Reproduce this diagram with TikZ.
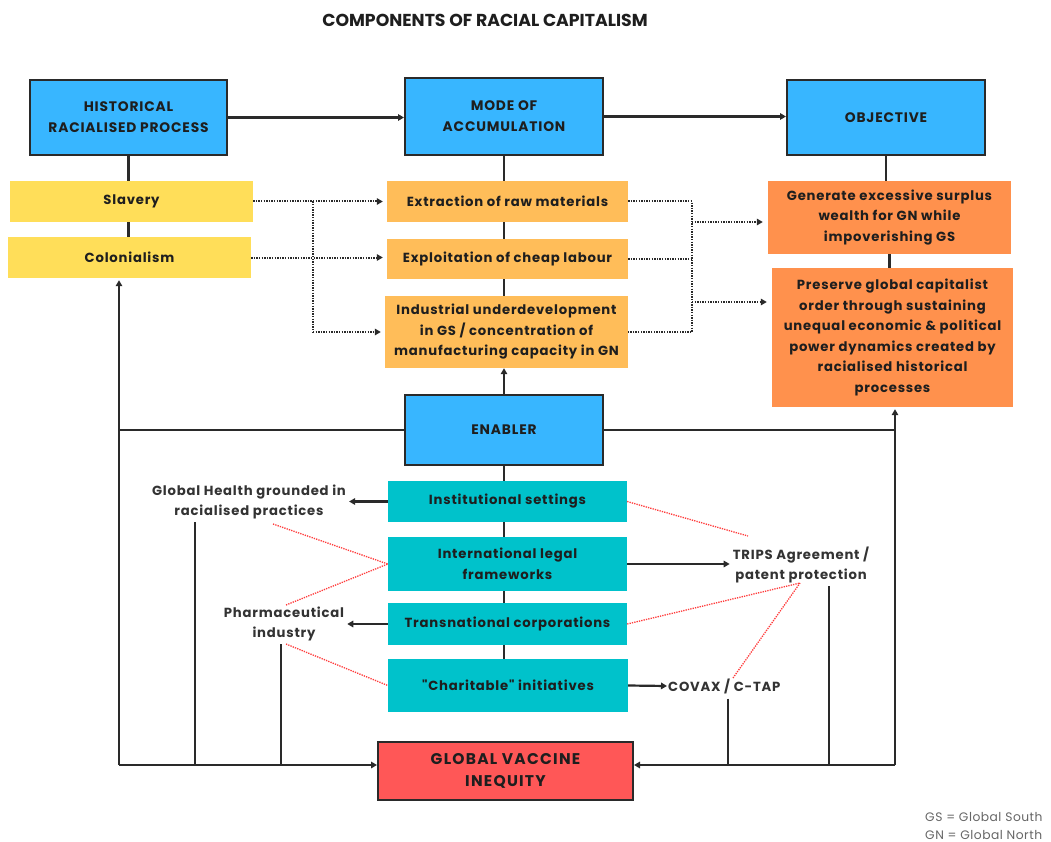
\documentclass[tikz,border=0pt]{standalone}
\usepackage{fontspec}
\usepackage{graphicx}
\setmainfont{Poppins}
\newfontfamily\fsp{Poppins}[LetterSpace=6]
\newfontfamily\fspw{Poppins}[LetterSpace=8]
\newfontfamily\fspl{Poppins}[LetterSpace=4]
\usetikzlibrary{arrows.meta,calc}
\definecolor{cblue}{HTML}{38B6FF}
\definecolor{cyel}{HTML}{FFDE59}
\definecolor{clor}{HTML}{FFBD59}
\definecolor{cor}{HTML}{FF914D}
\definecolor{cteal}{HTML}{00C2CB}
\definecolor{cred}{HTML}{FF5757}
\definecolor{txt}{HTML}{1E1E1E}
\definecolor{lbl}{HTML}{333333}
\definecolor{lin}{HTML}{2A2A2A}
\definecolor{rdot}{HTML}{FF3B3B}
\newcommand{\fsbox}{\fsp\fontsize{13.2}{20.5}\selectfont\bfseries}
\newcommand{\fshead}{\fsp\fontsize{13.8}{21}\selectfont\bfseries}
\begin{document}
\begin{tikzpicture}[x=1pt,y=-1pt,
  box/.style={inner sep=0pt, align=center, text=txt, font=\fsbox},
  bluebox/.style={box, fill=cblue, draw=lin, line width=2pt, font=\fshead},
  yelbox/.style={box, fill=cyel},
  lorbox/.style={box, fill=clor},
  orbox/.style={box, fill=cor},
  tealbox/.style={box, fill=cteal},
  redbox/.style={box, fill=cred, draw=lin, line width=2pt, font=\fspw\fontsize{15.5}{22}\selectfont\bfseries},
  lbltext/.style={inner sep=3pt, align=center, text=lbl, font=\fsbox},
  conn/.style={draw=lin, line width=2.2pt},
  arr/.style={-{Triangle[length=6pt,width=6.5pt]}},
  dots/.style={draw=lin, line width=2pt, dash pattern=on 1.4pt off 1.2pt},
  reddot/.style={draw=rdot, line width=1.3pt, dash pattern=on 1.3pt off 1.1pt}
]
\useasboundingbox (0,0) rectangle (1051,842);
\fill[white] (0,0) rectangle (1051,842);

% title
\node[text=txt, font=\fontsize{17.3}{20}\selectfont\bfseries] (title) at (485,20) {COMPONENTS OF RACIAL CAPITALISM};

% top row
\node[bluebox, minimum width=197, minimum height=75] (hrp) at (128.5,117.5) {HISTORICAL\\RACIALISED PROCESS};
\node[bluebox, minimum width=198, minimum height=77] (moa) at (504,116.5) {MODE OF\\ACCUMULATION};
\node[bluebox, minimum width=198, minimum height=75] (obj) at (886,117.5) {OBJECTIVE};

% historical processes
\node[yelbox, minimum width=243, minimum height=41] (slav) at (131.5,201.5) {Slavery};
\node[yelbox, minimum width=243, minimum height=41] (colon) at (129.5,257.5) {Colonialism};

% modes of accumulation
\node[lorbox, minimum width=241, minimum height=41] (extr) at (507.5,201.5) {Extraction of raw materials};
\node[lorbox, minimum width=241, minimum height=40] (expl) at (507.5,259) {Exploitation of cheap labour};
\node[lorbox, minimum width=243, minimum height=72] (indu) at (506.5,332) {Industrial underdevelopment\\in GS / concentration of\\manufacturing capacity in GN};

% objectives
\node[orbox, minimum width=243, minimum height=73] (gen) at (889.5,217.5) {Generate excessive surplus\\wealth for GN while\\impoverishing GS};
\node[orbox, minimum width=241, minimum height=139] (pres) at (892.5,337.5) {Preserve global capitalist\\order through sustaining\\unequal economic \& political\\power dynamics created by\\racialised historical\\processes};

% enabler
\node[bluebox, minimum width=198, minimum height=70] (enab) at (504,430) {ENABLER};
\node[tealbox, minimum width=239, minimum height=41] (inst) at (507.5,501.5) {Institutional settings};
\node[tealbox, minimum width=239, minimum height=54] (intl) at (507.5,564) {International legal\\frameworks};
\node[tealbox, minimum width=239, minimum height=42] (trans) at (507.5,624) {Transnational corporations};
\node[tealbox, minimum width=240, minimum height=53] (char) at (508,685.5) {\char34 Charitable\char34{} initiatives};

% outcome
\node[redbox, minimum width=255, minimum height=58] (gvi) at (505.5,771) {GLOBAL VACCINE\\INEQUITY};

% side labels
\node[lbltext] (gh) at (249,502) {Global Health grounded in\\racialised practices};
\node[lbltext] (trips) at (801,565) {TRIPS Agreement /\\patent protection};
\node[lbltext] (pharma) at (284,624) {Pharmaceutical\\industry};
\node[lbltext, anchor=west, inner sep=1pt] (covax) at (667,686) {COVAX / C-TAP};

% legend
\node[anchor=west, inner sep=0pt, text=lbl!75, font=\fspl\fontsize{12.3}{14}\selectfont] (gs) at (925,817) {GS = Global South};
\node[anchor=west, inner sep=0pt, text=lbl!75, font=\fspl\fontsize{12.3}{14}\selectfont] (gn) at (925,835) {GN = Global North};

% coordinates
\coordinate (BL) at (119,765);
\coordinate (BR) at (895,765);
\coordinate (JL) at (313,0);
\coordinate (JR) at (692,0);
\coordinate (JRa) at (692,222);
\coordinate (JRb) at (692,302);
\coordinate (d1) at (195,765);
\coordinate (d2) at (281,765);
\coordinate (d3) at (728,765);
\coordinate (d4) at (829,765);
\coordinate (r1) at (748,536);
\coordinate (r2) at (273,524);
\coordinate (r3) at (286,605);
\coordinate (r4) at (286,644);
\coordinate (r5) at (800,583);
\coordinate (r6) at (733,678);

% top arrows
\draw[conn,arr] (hrp.east) -- (moa.west |- hrp.east);
\draw[conn,arr] (moa.east) -- (obj.west |- moa.east);

% vertical stacks
\draw[conn] (hrp.south) -- (hrp.south |- slav.north);
\draw[conn] (hrp.south |- slav.south) -- (hrp.south |- colon.north);
\draw[conn] (moa.south) -- (moa.south |- extr.north);
\draw[conn] (moa.south |- extr.south) -- (moa.south |- expl.north);
\draw[conn] (moa.south |- expl.south) -- (moa.south |- indu.north);
\draw[conn] (obj.south) -- (obj.south |- gen.north);
\draw[conn] (gen.south) -- (gen.south |- pres.north);
\draw[conn,arr] (enab.north) -- (enab.north |- indu.south);
\draw[conn] (enab.south) -- (enab.south |- inst.north);
\draw[conn] (enab.south |- inst.south) -- (enab.south |- intl.north);
\draw[conn] (enab.south |- intl.south) -- (enab.south |- trans.north);
\draw[conn] (enab.south |- trans.south) -- (enab.south |- char.north);

% dotted: history -> accumulation
\draw[dots,arr] (slav.east) -- ([xshift=-4pt]extr.west |- slav.east);
\draw[dots,arr] (colon.east) -- ([xshift=-4pt]expl.west |- colon.east);
\draw[dots] (JL |- slav.east) -- (JL |- indu.west);
\draw[dots,arr] (JL |- indu.west) -- ([xshift=-4pt]indu.west);

% dotted: accumulation -> objective
\draw[dots] (extr.east) -- (JR |- extr.east) -- (JR |- indu.east) -- (indu.east);
\draw[dots] (expl.east) -- (JR |- expl.east);
\draw[dots,arr] (JRa) -- ([xshift=-5pt]gen.west |- JRa);
\draw[dots,arr] (JRb) -- ([xshift=-5pt]pres.west |- JRb);

% enabler loops
\draw[conn] (enab.west) -- (enab.west -| BL);
\draw[conn,arr] (BL) -- ([yshift=-2pt]BL |- colon.south);
\draw[conn,arr] (BL) -- (BL -| gvi.west);
\draw[conn] (enab.east) -- (enab.east -| BR);
\draw[conn,arr] (enab.east -| BR) -- ([yshift=-2pt]BR |- pres.south);
\draw[conn] (enab.east -| BR) -- (BR);
\draw[conn,arr] (BR) -- (BR -| gvi.east);

% enabler sub-items
\draw[conn,arr] (inst.west) -- (gh.east |- inst.west);
\draw[conn,arr] (intl.east) -- (trips.west |- intl.east);
\draw[conn,arr] (trans.west) -- (pharma.east |- trans.west);
\draw[conn,arr] (char.east) -- (covax.west);

% drops to global vaccine inequity
\draw[conn] (d1 |- gh.south) -- (d1);
\draw[conn] (d2 |- pharma.south) -- (d2);
\draw[conn] ([yshift=-4pt]d3 |- covax.south) -- (d3);
\draw[conn] (d4 |- trips.south) -- (d4);

% red dotted relations
\draw[reddot] (inst.east) -- (r1);
\draw[reddot] (r2) -- (intl.west);
\draw[reddot] (r3) -- (intl.west);
\draw[reddot] (r4) -- (char.west);
\draw[reddot] (trans.east) -- (r5);
\draw[reddot] (r6) -- (r5);
\end{tikzpicture}
\end{document}
